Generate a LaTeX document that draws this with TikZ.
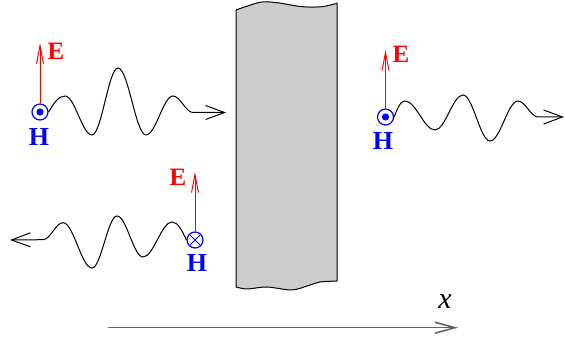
\documentclass[tikz,border=0pt]{standalone}
\usepackage{fontspec}
\setmainfont{Liberation Serif}
\usepackage{tikz}
\usetikzlibrary{arrows.meta}

\definecolor{slabgray}{RGB}{204,204,204}
\definecolor{axisgray}{RGB}{100,100,100}

\begin{document}
\begin{tikzpicture}[x=0.5pt,y=0.5pt,
  wave/.style={line width=0.5pt,-{Straight Barb[length=9.5pt,width=7pt]}},
  efield/.style={red,line width=0.5pt,-{Straight Barb[length=9pt,width=3.5pt]}},
  hout/.style={circle,draw=blue,line width=0.6pt,minimum size=8pt,inner sep=0pt,
    path picture={\fill[blue] (path picture bounding box.center) circle (1.8pt);}},
  hin/.style={circle,draw=blue,line width=0.6pt,minimum size=8pt,inner sep=0pt,
    path picture={\draw[blue,line width=0.5pt]
      (path picture bounding box.south west) -- (path picture bounding box.north east)
      (path picture bounding box.north west) -- (path picture bounding box.south east);}},
  elabel/.style={red,font=\fontsize{12.5}{14}\selectfont\bfseries},
  hlabel/.style={blue,font=\fontsize{13}{15}\selectfont\bfseries}]
\useasboundingbox (0,0) rectangle (565,341);

% slab
\draw[fill=slabgray,line width=0.5pt]
  plot[smooth] coordinates {(236,331) (260,338.7) (277,338.3) (302,334.3) (322,334.3) (337,337.7)}
  -- plot[smooth] coordinates {(337,60) (320,59) (310,56) (292,51) (267,54) (247,52) (236,54)}
  -- cycle;

% incident wave
\node[hout] (h1) at (40,229) {};
\coordinate (e1) at (40,298);
\coordinate (t1) at (226,228.5);
\draw[efield] (h1) -- (e1);
\node[elabel] (E1) at (56,289.5) {E};
\node[hlabel] (H1) at (39,204.5) {H};
\draw[wave] (h1.east) .. controls (53.6,237.3) and (58.2,245) .. (65,245)
  .. controls (74.8,245) and (82.2,206) .. (92,206)
  .. controls (101.5,206) and (108.5,273) .. (118,273)
  .. controls (128.2,273) and (135.8,206) .. (146,206)
  .. controls (155.8,206) and (163.2,245) .. (173,245)
  .. controls (180.3,245) and (185.7,228.5) .. (193,228.5) -- (t1);

% transmitted wave
\node[hout] (h2) at (385.5,224) {};
\coordinate (e2) at (385.5,291);
\coordinate (t2) at (564,224);
\draw[efield] (h2) -- (e2);
\node[elabel] (E2) at (401,287) {E};
\node[hlabel] (H2) at (383,200) {H};
\draw[wave] (h2.east) .. controls (397.5,232.3) and (400.2,240) .. (405,240)
  .. controls (415.9,240) and (424.1,211) .. (435,211)
  .. controls (445.2,211) and (452.8,246) .. (463,246)
  .. controls (472.8,246) and (480.2,200) .. (490,200)
  .. controls (500.2,200) and (507.8,240) .. (518,240)
  .. controls (525.3,240) and (530.7,224) .. (538,224) -- (t2);

% reflected wave
\node[hin] (h3) at (195,101) {};
\coordinate (e3) at (195,169);
\coordinate (t3) at (10,101);
\draw[efield] (h3) -- (e3);
\node[elabel] (E3) at (178,163.5) {E};
\node[hlabel] (H3) at (197,78) {H};
\draw[wave] (h3.west) .. controls (182,110.3) and (178,119) .. (172,119)
  .. controls (161.5,119) and (153.5,84) .. (143,84)
  .. controls (133.5,84) and (126.5,125) .. (117,125)
  .. controls (107.9,125) and (101.1,73) .. (92,73)
  .. controls (81.5,73) and (73.5,118.3) .. (63,118.3)
  .. controls (55.7,118.3) and (50.3,101.3) .. (43,101.3) -- (t3);

% axis
\coordinate (ax0) at (108,13.3);
\coordinate (ax1) at (458,13.3);
\draw[axisgray,line width=0.8pt,-{Straight Barb[length=10pt,width=5.5pt]}] (ax0) -- (ax1);
\node[font=\fontsize{15}{17}\selectfont] (xl) at (445,39) {\itshape x};
\end{tikzpicture}
\end{document}
